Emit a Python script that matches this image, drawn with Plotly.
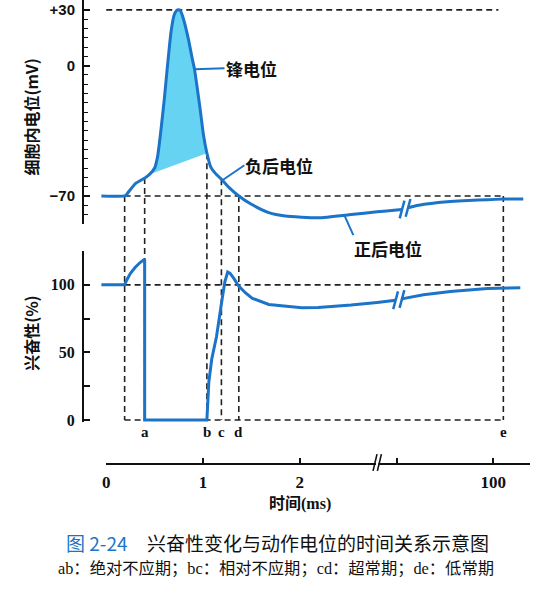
import numpy as np
import plotly.graph_objects as go

# ---------------- data (time in ms) ----------------
# membrane potential (mV), before and after the time-axis break
mp_t_pre = [-0.05, 0.19, 0.21, 0.25, 0.31, 0.40, 0.45, 0.50, 0.53, 0.56, 0.60, 0.633, 0.668, 0.70,
            0.725, 0.746, 0.767, 0.80, 0.85, 0.89, 0.912, 0.937, 0.97, 1.005, 1.04, 1.08, 1.13,
            1.19, 1.27, 1.37, 1.50, 1.68, 1.85, 2.19, 2.53, 2.80, 3.0, 8.5]
mp_v_pre = [-70, -70, -69.2, -66.5, -63, -60.3, -58.3, -55, -49, -37, -18, 0, 17.6, 27,
            29.5, 30, 29.5, 24.7, 14, 3.4, -1.9, -10.8, -23.2, -37.4, -47, -54.5, -58,
            -61, -65.5, -70, -74.5, -79, -80.8, -81.7, -80, -78.5, -77.6, -77.3]
mp_t_post = [14.5, 20.5, 35, 57, 75, 94, 110, 130]
mp_v_post = [-76.4, -75.5, -74.2, -73.0, -72.4, -72.0, -71.7, -71.6]

# excitability (%)
ex_t_pre = [-0.05, 0.19, 0.215, 0.25, 0.30, 0.35, 0.397, 0.397, 1.04, 1.045, 1.06, 1.09, 1.14,
            1.19, 1.225, 1.255, 1.28, 1.32, 1.37, 1.44, 1.51, 1.68, 1.85, 2.02, 2.19, 2.53, 2.80, 2.99]
ex_v_pre = [100, 100, 104, 108.5, 113, 116.5, 119, 0, 0, 11, 28, 45, 62,
            86, 102, 109.5, 108.5, 104.6, 99, 94, 90, 85.5, 84, 83, 83.2, 85, 87, 88.6]
ex_t_post = [8.4, 10.8, 30, 57, 94, 127]
ex_v_post = [89.5, 90.0, 92.6, 95.0, 97.3, 97.8]

# base line of the shaded spike area
spike_base_t = [0.45, 1.04]
spike_base_v = [-58.3, -47.0]

stim_t = 0.19
period_names = ["a", "b", "c", "d", "e"]
period_times = [0.397, 1.04, 1.19, 1.37, 110]

peak_ref_mv = 30
peak_ref_span = [0.0, 105]
rest_mv = -70
normal_ex = 100

mp_tickvals = [-70, 0, 30]
mp_ticktext = ["\u221270", "0", "+30"]
mp_minor = list(range(-85, 35, 5))
ex_tickvals = [0, 25, 50, 75, 100, 125]
ex_ticktext = ["0", "", "50", "", "100", ""]
time_tickvals = [0, 1, 2, 3, 100]
time_ticktext = ["0", "1", "2", "", "100"]
axis_break_t = 2.8

label_spike = ("锋电位", 0.912)
label_neg = ("负后电位", 1.20)
label_pos = ("正后电位", 2.46)

# ---------------- broken time scale ----------------
def tx(t):
    t = np.asarray(t, dtype=float)
    return np.where(t <= 3, t, 3 + (t - 3) / 97.0)

# ---------------- layout geometry ----------------
W, H = 541, 600
BLUE = "#1c74c8"
FILL = "#66d3f3"
DASH = dict(color="#222222", width=1.6, dash="6px,4px")
PXU = 97.5
X_RANGE = [(80.5 - 103) / PXU, (530 - 103) / PXU]
X_DOM = [80.5 / W, 530 / W]
TOP_DOM = [1 - 226.5 / H, 1.0]
TOP_RANGE = [-85, 35.3]
BOT_DOM = [1 - 427.05 / H, 1 - 254 / H]
BOT_RANGE = [-1.5, 125]
T_DOM = [103 / W, 530 / W]
T_Y = 1 - 468 / H


def pt(v):
    return TOP_DOM[0] + (v - TOP_RANGE[0]) / (TOP_RANGE[1] - TOP_RANGE[0]) * (TOP_DOM[1] - TOP_DOM[0])


def pb(v):
    return BOT_DOM[0] + (v - BOT_RANGE[0]) / (BOT_RANGE[1] - BOT_RANGE[0]) * (BOT_DOM[1] - BOT_DOM[0])


fig = go.Figure()

# shaded spike area
inner = [t for t in mp_t_pre if spike_base_t[0] < t < spike_base_t[1]]
fill_t = [spike_base_t[0]] + inner + [spike_base_t[1]]
fill_v = list(np.interp(fill_t, mp_t_pre, mp_v_pre))
fig.add_trace(go.Scatter(
    x=list(tx(fill_t)) + list(tx(spike_base_t[::-1])),
    y=fill_v + spike_base_v[::-1],
    fill="toself", fillcolor=FILL, line=dict(width=0), mode="lines",
    xaxis="x", yaxis="y", hoverinfo="skip", showlegend=False))

for ts, vs in ((mp_t_pre, mp_v_pre), (mp_t_post, mp_v_post)):
    fig.add_trace(go.Scatter(x=tx(ts), y=vs, mode="lines",
                             line=dict(color=BLUE, width=3, shape="spline", smoothing=0.5),
                             xaxis="x", yaxis="y", hoverinfo="skip", showlegend=False))
for ts, vs in ((ex_t_pre, ex_v_pre), (ex_t_post, ex_v_post)):
    fig.add_trace(go.Scatter(x=tx(ts), y=vs, mode="lines",
                             line=dict(color=BLUE, width=3),
                             xaxis="x2", yaxis="y2", hoverinfo="skip", showlegend=False))

# break marks on the curves
S = 2.4 / PXU
for (tb, vb, h, xa, ya) in ((mp_t_pre[-1], mp_v_pre[-1], 9 / 1.88, "x", "y"),
                            (mp_t_post[0], mp_v_post[0], 9 / 1.88, "x", "y"),
                            (ex_t_pre[-1], ex_v_pre[-1], 9 / 1.368, "x2", "y2"),
                            (ex_t_post[0], ex_v_post[0], 9 / 1.368, "x2", "y2")):
    u = float(tx(tb))
    fig.add_trace(go.Scatter(x=[u - S, u + S], y=[vb - h, vb + h], mode="lines",
                             line=dict(color=BLUE, width=2.5), xaxis=xa, yaxis=ya,
                             hoverinfo="skip", showlegend=False))

# invisible trace for the time axis
fig.add_trace(go.Scatter(x=tx(time_tickvals), y=[0] * len(time_tickvals), mode="markers",
                         marker=dict(opacity=0), xaxis="x3", yaxis="y3",
                         hoverinfo="skip", showlegend=False))

shapes = []
e_t = period_times[-1]
# horizontal dashed reference lines
shapes.append(dict(type="line", xref="x", yref="y", x0=float(tx(peak_ref_span[0])), x1=float(tx(peak_ref_span[1])),
                   y0=peak_ref_mv, y1=peak_ref_mv, line=DASH, layer="below"))
shapes.append(dict(type="line", xref="x", yref="y", x0=float(tx(stim_t)), x1=float(tx(e_t)),
                   y0=rest_mv, y1=rest_mv, line=DASH, layer="below"))
shapes.append(dict(type="line", xref="x2", yref="y2", x0=float(tx(stim_t)), x1=float(tx(e_t)),
                   y0=normal_ex, y1=normal_ex, line=DASH, layer="below"))
shapes.append(dict(type="line", xref="x2", yref="y2", x0=float(tx(stim_t)), x1=float(tx(e_t)),
                   y0=0, y1=0, line=DASH, layer="below"))
# vertical dashed lines spanning both panels
all_t = mp_t_pre + mp_t_post
all_v = mp_v_pre + mp_v_post
for t in [stim_t] + period_times:
    v_top = float(np.interp(t, all_t, all_v)) if t < 3 else rest_mv
    shapes.append(dict(type="line", xref="x", yref="paper", x0=float(tx(t)), x1=float(tx(t)),
                       y0=pt(v_top), y1=pb(0), line=DASH, layer="below"))
# time axis break
ub = float(tx(axis_break_t))
shapes.append(dict(type="rect", xref="x3", yref="paper", x0=ub - 1.2 / PXU, x1=ub + 1.2 / PXU,
                   y0=T_Y - 3 / H, y1=T_Y + 3 / H, fillcolor="white", line=dict(width=0), layer="above"))
for off in (-2.2, 2.2):
    shapes.append(dict(type="line", xref="x3", yref="paper",
                       x0=ub + (off - 2) / PXU, x1=ub + (off + 2) / PXU,
                       y0=T_Y - 8.5 / H, y1=T_Y + 8.5 / H,
                       line=dict(color="#111111", width=1.6), layer="above"))

CJK = "Noto Sans CJK SC"
SERIF = "Liberation Serif, Noto Sans CJK SC"
ann = []
# curve labels with leader lines
for (txt, t, ax, ay, xanc, yanc) in ((label_spike[0], label_spike[1], 30, -1, "left", "middle"),
                                     (label_neg[0], label_neg[1], 22, -15, "left", "middle"),
                                     (label_pos[0], label_pos[1], 9, 20, "left", "top")):
    ann.append(dict(x=float(tx(t)), y=float(np.interp(t, mp_t_pre, mp_v_pre)), xref="x", yref="y",
                    text=txt, showarrow=True, arrowhead=0, arrowwidth=2, arrowcolor=BLUE,
                    ax=ax, ay=ay, axref="pixel", ayref="pixel", standoff=0,
                    xanchor=xanc, yanchor=yanc, borderpad=0,
                    font=dict(family=CJK, size=17, color="#111111", weight="bold")))
# period letters
for name, t in zip(period_names, period_times):
    ann.append(dict(x=float(tx(t)), y=0, xref="x2", yref="y2", yshift=-12, text=name,
                    xanchor="center", yanchor="middle",
                    showarrow=False, font=dict(family=SERIF, size=15, color="#111111", weight="bold")))
# axis titles
ann.append(dict(x=27 / W, y=1 - 118 / H, xref="paper", yref="paper", text="细胞内电位(mV)",
                textangle=-90, showarrow=False, xanchor="center", yanchor="middle",
                font=dict(family=CJK, size=16, color="#111111", weight="bold")))
ann.append(dict(x=27 / W, y=1 - 337 / H, xref="paper", yref="paper", text="兴奋性(%)",
                textangle=-90, showarrow=False, xanchor="center", yanchor="middle",
                font=dict(family=CJK, size=16, color="#111111", weight="bold")))
ann.append(dict(x=float(tx(2)), y=1 - 510 / H, xref="x3", yref="paper", text="时间(ms)",
                xanchor="center", yanchor="middle",
                showarrow=False, font=dict(family=SERIF, size=16, color="#111111", weight="bold")))
# caption
ann.append(dict(x=60 / W, y=1 - 549 / H, xref="paper", yref="paper", text="图 2-24",
                xanchor="left", yanchor="middle",
                showarrow=False, font=dict(family=CJK, size=19, color=BLUE)))
ann.append(dict(x=142 / W, y=1 - 549 / H, xref="paper", yref="paper",
                xanchor="left", yanchor="middle",
                text="兴奋性变化与动作电位的时间关系示意图",
                showarrow=False, font=dict(family=CJK, size=19, color="#111111")))
ann.append(dict(x=52 / W, y=1 - 575 / H, xref="paper", yref="paper",
                xanchor="left", yanchor="middle",
                text="ab：绝对不应期；bc：相对不应期；cd：超常期；de：低常期",
                showarrow=False, font=dict(family=SERIF, size=16.3, color="#111111")))

yax_common = dict(showline=True, linecolor="#111111", linewidth=1.8, ticks="inside",
                  tickwidth=1.5, tickcolor="#111111", showgrid=False, zeroline=False,
                  tickmode="array", ticklabelstandoff=4)

fig.update_layout(
    width=W, height=H, autosize=False,
    margin=dict(l=0, r=0, t=0, b=0),
    paper_bgcolor="white", plot_bgcolor="rgba(0,0,0,0)",
    hovermode=False, showlegend=False,
    xaxis=dict(domain=X_DOM, range=X_RANGE, visible=False, anchor="y"),
    xaxis2=dict(domain=X_DOM, range=X_RANGE, visible=False, anchor="y2", matches="x"),
    yaxis=dict(domain=TOP_DOM, range=TOP_RANGE, anchor="x", tickvals=mp_tickvals, ticktext=mp_ticktext,
               ticklen=6,
               tickfont=dict(family="Liberation Sans", size=15, color="#111111", weight="bold"),
               minor=dict(tickmode="array", tickvals=mp_minor, ticks="inside", ticklen=4,
                          tickwidth=1.3, tickcolor="#111111", showgrid=False),
               **yax_common),
    yaxis2=dict(domain=BOT_DOM, range=BOT_RANGE, anchor="x2", tickvals=ex_tickvals, ticktext=ex_ticktext,
                ticklen=6,
                tickfont=dict(family="Liberation Serif", size=16, color="#111111", weight="bold"),
                **yax_common),
    xaxis3=dict(domain=T_DOM, range=[0, X_RANGE[1]], anchor="y3", showline=True, linecolor="#111111",
                linewidth=1.8, ticks="inside", ticklen=5, tickwidth=1.5, tickcolor="#111111",
                tickmode="array", tickvals=list(tx(time_tickvals)), ticktext=time_ticktext,
                showgrid=False, zeroline=False, ticklabelstandoff=3,
                tickfont=dict(family="Liberation Serif", size=17, color="#111111", weight="bold")),
    yaxis3=dict(domain=[T_Y, T_Y + 10 / H], visible=False, anchor="x3", range=[0, 1]),
    shapes=shapes, annotations=ann,
)

fig.write_html("out.html")
